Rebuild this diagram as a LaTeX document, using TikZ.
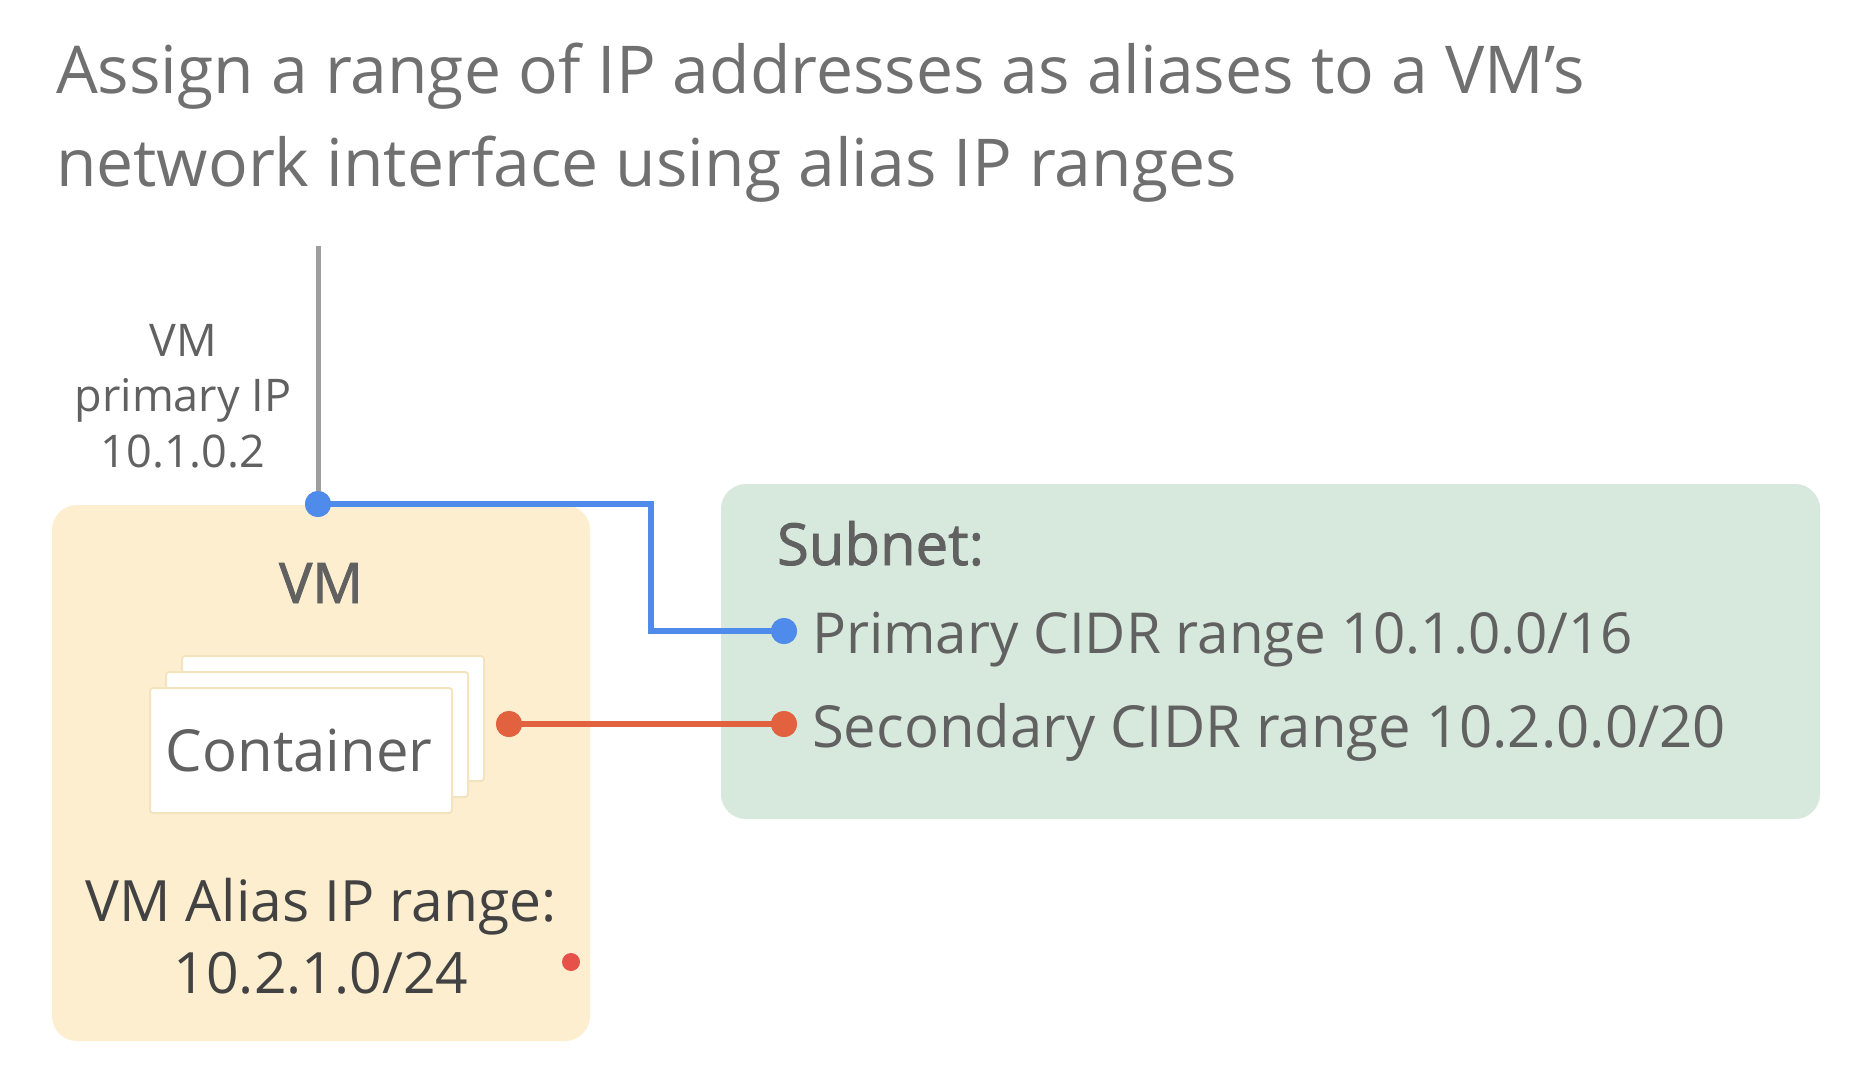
\documentclass[tikz,border=0pt]{standalone}
\usepackage{fontspec}
\setmainfont{Open Sans}
\newfontfamily\semib[FakeBold=1.5]{Open Sans}
\definecolor{titlegray}{HTML}{707070}
\definecolor{labgray}{HTML}{616161}
\definecolor{darkgray}{HTML}{424242}
\definecolor{linegray}{HTML}{9E9E9E}
\definecolor{vmfill}{HTML}{FCEECF}
\definecolor{cardedge}{HTML}{F3E3BE}
\definecolor{subfill}{HTML}{D6E9DC}
\definecolor{gblue}{HTML}{4F8BEB}
\definecolor{gred}{HTML}{E2613F}
\definecolor{dotred}{HTML}{E8504A}
\tikzset{
  box/.style={fill=#1, draw=none, rounded corners=25pt},
  card/.style={fill=white, draw=cardedge, line width=2pt, rounded corners=3pt},
  dot/.style={circle, fill=#1, inner sep=0pt, minimum size=26pt},
  bluewire/.style={gblue, line width=6pt},
  redwire/.style={gred, line width=6pt},
  txt/.style={inner sep=0pt, outer sep=0pt},
}
\begin{document}
\begin{tikzpicture}[x=1pt, y=-1pt]
\useasboundingbox (0,0) rectangle (1862,1084);
\fill[white] (0,0) rectangle (1862,1084);
% title
\node[txt, anchor=base west, text=titlegray, font=\fontsize{66}{80}\selectfont] (t1) at (56,93) {Assign a range of IP addresses as aliases to a VM’s};
\node[txt, anchor=base west, text=titlegray, font=\fontsize{66}{80}\selectfont] (t2) at (56,186) {network interface using alias IP ranges};
% boxes
\draw[box=vmfill] (52,505) rectangle (590,1041);
\draw[box=subfill] (721,484) rectangle (1820,819);
% gray line
\coordinate (top) at (318,246);
\node[dot=gblue] (nic) at (318,504) {};
\draw[linegray, line width=5pt] (top) -- (nic.center);
% primary ip label
\node[txt, anchor=base, text=labgray, font=\fontsize{45}{56}\selectfont] (l1) at (183,356) {VM};
\node[txt, anchor=base, text=labgray, font=\fontsize{45}{56}\selectfont] (l2) at (183,411) {primary IP};
\node[txt, anchor=base, text=labgray, font=\fontsize{45}{56}\selectfont] (l3) at (183,467) {10.1.0.2};
% VM label
\node[txt, anchor=base, text=labgray, font=\semib\fontsize{56}{60}\selectfont] (vm) at (321,603) {VM};
% cards
\draw[card] (182,656) rectangle (484,781);
\draw[card] (166,672) rectangle (468,797);
\draw[card] (150,688) rectangle (452,813);
\node[txt, text=labgray, font=\fontsize{58}{66}\selectfont] (cont) at (299,750) {Container};
% alias range
\node[txt, anchor=base, text=darkgray, font=\fontsize{57}{70}\selectfont] (a1) at (321,921) {VM Alias IP range:};
\node[txt, anchor=base, text=darkgray, font=\fontsize{57}{70}\selectfont] (a2) at (321,993) {10.2.1.0/24};
\node[circle, fill=dotred, inner sep=0pt, minimum size=18pt] (small) at (571,962) {};
% subnet text
\node[txt, anchor=base west, text=labgray, font=\semib\fontsize{58}{60}\selectfont] (sub) at (777,565) {Subnet:};
\node[dot=gblue] (pdot) at (784,631) {};
\node[txt, anchor=base west, text=labgray, font=\fontsize{56.5}{60}\selectfont] (prim) at (812,653) {Primary CIDR range 10.1.0.0/16};
\node[dot=gred] (sdot) at (784,724) {};
\node[dot=gred] (cdot) at (509,724) {};
\node[txt, anchor=base west, text=labgray, font=\fontsize{58}{60}\selectfont] (sec) at (812,747) {Secondary CIDR range 10.2.0.0/20};
% wires
\draw[bluewire] (nic.center) -- (651,504) -- (651,631) -- (pdot.center);
\draw[redwire] (cdot.center) -- (sdot.center);
\node[dot=gblue] at (nic) {};
\node[dot=gblue] at (pdot) {};
\node[dot=gred] at (cdot) {};
\node[dot=gred] at (sdot) {};
\end{tikzpicture}
\end{document}
